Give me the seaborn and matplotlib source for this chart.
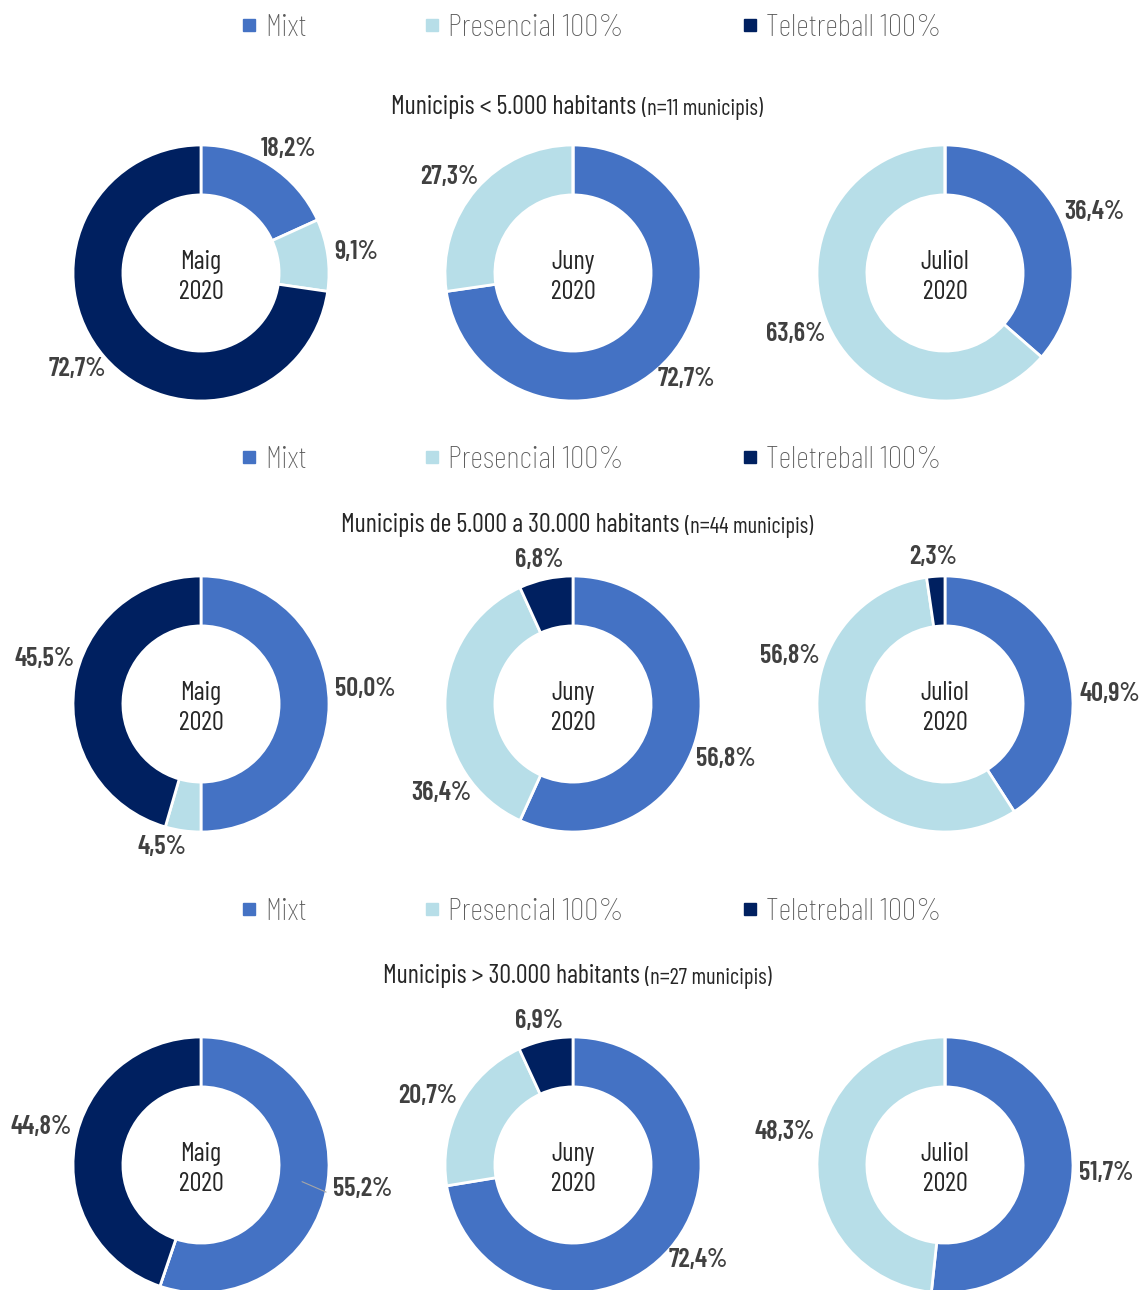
import numpy as np
import matplotlib
matplotlib.use('Agg')
import matplotlib.pyplot as plt
from matplotlib import font_manager as fm
from matplotlib.lines import Line2D
import seaborn as sns

# data
groups = ['Municipis < 5.000 habitants', 'Municipis de 5.000 a 30.000 habitants', 'Municipis > 30.000 habitants']
n_municipis = [11, 44, 27]
months = ['Maig', 'Juny', 'Juliol']
year = 2020
categories = ['Mixt', 'Presencial 100%', 'Teletreball 100%']
mixt = [[18.2, 72.7, 36.4], [50.0, 56.8, 40.9], [55.2, 72.4, 51.7]]
presencial = [[9.1, 27.3, 63.6], [4.5, 36.4, 56.8], [0.0, 20.7, 48.3]]
teletreball = [[72.7, 0.0, 0.0], [45.5, 6.8, 2.3], [44.8, 6.9, 0.0]]

colors = ['#4472C4', '#B7DEE8', '#002060']

# label direction (degrees clockwise from 12 o'clock) where the original moved it off the slice middle
label_angle_fix = {(1, 1, 1): 233, (1, 2, 1): 289, (1, 0, 0): 84, (1, 2, 0): 86, (1, 1, 0): 112,
                   (2, 2, 1): 283, (0, 1, 0): 136, (1, 0, 2): 288, (2, 0, 2): 285, (1, 0, 1): 194}

sns.set_theme(style='white')

# pick a condensed family if there is one
installed = {f.name for f in fm.fontManager.ttflist}
family = 'DejaVu Sans'
for cand in ['Barlow Condensed', 'Barlow Semi Condensed', 'Roboto Condensed', 'Archivo Narrow',
             'PT Sans Narrow', 'Fira Sans Condensed']:
    if cand in installed:
        family = cand
        break
plt.rcParams['font.family'] = [family, 'DejaVu Sans']
if family == 'DejaVu Sans':
    plt.rcParams['font.stretch'] = 'condensed'

W, H = 1143, 1290
fig = plt.figure(figsize=(W / 100, H / 100), dpi=100)

col_x = [201, 573, 945]
row_y = [273, 704, 1165]
legend_y = [28, 460, 912]
title_y = [107, 525, 976]
R = 128      # donut radius in px
HALF = 190   # half size of each donut axes in px


def fmt(v):
    return f'{v:.1f}'.replace('.', ',') + '%'


renderer = fig.canvas.get_renderer()

for r in range(3):
    # legend per row
    handles = [Line2D([], [], marker='s', linestyle='', markersize=9, color=c) for c in colors]
    fig.legend(handles, categories, loc='center', ncol=3, frameon=False,
               bbox_to_anchor=(591 / W, 1 - legend_y[r] / H),
               prop={'size': 23, 'weight': 'light'}, handlelength=0.5, handletextpad=0.25,
               columnspacing=3.7, labelcolor='#595959')

    # title: main part + smaller (n=..) part, centred together
    t1 = fig.text(0, 1 - title_y[r] / H, groups[r] + ' ', fontsize=18.8, color='#262626', va='center')
    t2 = fig.text(0, 1 - title_y[r] / H - 0.001, f'(n={n_municipis[r]} municipis)', fontsize=16.2,
                  color='#262626', va='center')
    w1 = t1.get_window_extent(renderer).width
    w2 = t2.get_window_extent(renderer).width
    x0 = 577 - (w1 + w2) / 2
    t1.set_x(x0 / W)
    t2.set_x((x0 + w1) / W)

    for c in range(3):
        cx, cy = col_x[c], row_y[r]
        ax = fig.add_axes([(cx - HALF) / W, 1 - (cy + HALF) / H, 2 * HALF / W, 2 * HALF / H])
        vals = [mixt[r][c], presencial[r][c], teletreball[r][c]]
        wedges, _ = ax.pie(vals, colors=colors, startangle=90, counterclock=False, radius=1,
                           wedgeprops=dict(width=0.39, edgecolor='white', linewidth=2))
        lim = HALF / R
        ax.set_xlim(-lim, lim)
        ax.set_ylim(-lim, lim)
        ax.set_aspect('equal')
        ax.axis('off')

        ax.text(0, -0.03, f'{months[c]}\n{year}', ha='center', va='center', fontsize=19,
                color='#262626', linespacing=1.3)

        for k, (w, v) in enumerate(zip(wedges, vals)):
            if v <= 0:
                continue
            if (r, c, k) in label_angle_fix:
                ang = np.deg2rad(90 - label_angle_fix[(r, c, k)])
            else:
                ang = np.deg2rad((w.theta1 + w.theta2) / 2)
            if (r, c, k) == (2, 0, 0):
                # small leader line in the original
                a0 = np.deg2rad((w.theta1 + w.theta2) / 2)
                ax.plot([0.8 * np.cos(a0), 1.0 * np.cos(a0 - 0.05)],
                        [0.8 * np.sin(a0), 1.0 * np.sin(a0 - 0.05)],
                        color='#A6A6A6', lw=0.8, zorder=5)
            # anchor just outside the ring, text pushed out by about half its size
            a = 1.06
            t = ax.annotate(fmt(v), xy=(a * np.cos(ang), a * np.sin(ang)), xytext=(0, 0),
                            textcoords='offset pixels', ha='center', va='center',
                            fontsize=19, fontweight='semibold', color='#404040')
            bb = t.get_window_extent(renderer)
            t.xyann = (0.48 * bb.width * np.cos(ang), 0.48 * bb.height * np.sin(ang))

fig.savefig('out.png', dpi=100)
